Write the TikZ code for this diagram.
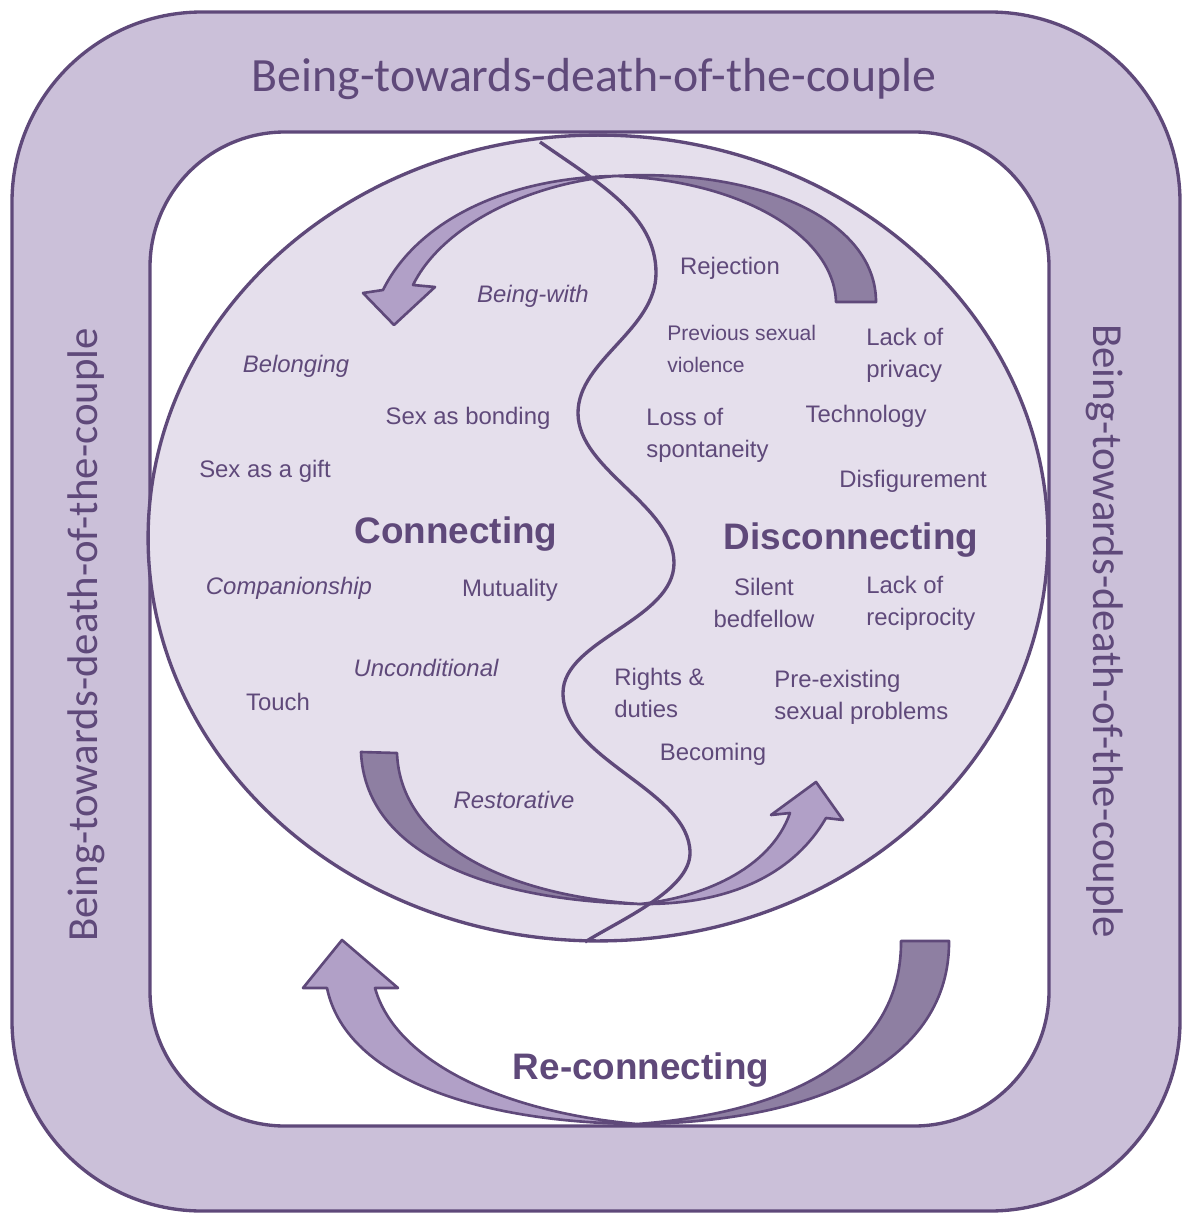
\documentclass[tikz,border=0pt]{standalone}
\usepackage{fontspec}
\setmainfont{Liberation Sans}
\newfontfamily\bandfont{Carlito}
\definecolor{plum}{HTML}{5F497A}
\definecolor{bandfill}{HTML}{CBC0D9}
\definecolor{discfill}{HTML}{E5DFEC}
\definecolor{tailfill}{HTML}{8E7FA2}
\definecolor{headfill}{HTML}{B1A0C7}
\begin{document}
\begin{tikzpicture}[x=0.02cm, y=-0.02cm,
    edge/.style={draw=plum, line width=1.9pt},
    arrowedge/.style={draw=plum, line width=1.5pt, line join=round},
    lbl/.style={text=plum, inner sep=0pt, align=left, font=\fontsize{13.6}{18.2}\selectfont},
    itl/.style={lbl, font=\fontsize{13.6}{18.2}\selectfont\itshape},
    small/.style={lbl, font=\fontsize{12}{18.2}\selectfont},
    head/.style={lbl, font=\fontsize{21}{24}\selectfont\bfseries},
    band/.style={text=plum, inner sep=0pt, font=\bandfont\fontsize{24.4}{28}\selectfont}]

  \useasboundingbox (0,0) rectangle (1183,1213);

  %outer band and inner frame
  \draw[edge, fill=bandfill, rounded corners=3.8cm] (12,12) rectangle (1180,1211);
  \draw[edge, fill=white, rounded corners=2.7cm] (150,132) rectangle (1049,1126);

  %the couple
  \draw[edge, fill=discfill] (598,538) ellipse [x radius=9cm, y radius=8.06cm];

  %top arrow
  \draw[arrowedge, fill=tailfill] (615,176) .. controls (760,168) and (876,220) .. (876,302)
        -- (836,302) .. controls (834,235) and (740,180) .. (615,176) -- cycle;
  \draw[arrowedge, fill=headfill] (615,176) .. controls (500,178) and (415,225) .. (383,290)
        -- (363,293) -- (394,325) -- (435,287) -- (413,285)
        .. controls (440,230) and (520,185) .. (615,176) -- cycle;

  %lower arrow in the circle
  \draw[arrowedge, fill=tailfill] (361,752) .. controls (365,850) and (480,900) .. (640,904)
        .. controls (500,895) and (400,840) .. (397,753) -- cycle;
  \draw[arrowedge, fill=headfill] (640,904) .. controls (700,898) and (770,870) .. (790,813)
        -- (771,815) -- (816,782) -- (843,820) -- (826,818)
        .. controls (790,880) and (720,905) .. (640,904) -- cycle;

  %re-connecting arrow
  \draw[arrowedge, fill=tailfill] (949,941) .. controls (950,1060) and (820,1122) .. (637,1124)
        .. controls (800,1112) and (902,1050) .. (901,941) -- cycle;
  \draw[arrowedge, fill=headfill] (637,1124) .. controls (470,1122) and (345,1075) .. (327,988)
        -- (303,988) -- (342,940) -- (398,988) -- (375,988)
        .. controls (395,1060) and (500,1112) .. (637,1124) -- cycle;

  %dividing line
  \draw[edge] (540,142) .. controls (600,184) and (656,215) .. (656,273)
        .. controls (656,330) and (578,360) .. (578,413)
        .. controls (578,470) and (674,505) .. (674,563)
        .. controls (674,620) and (563,640) .. (563,693)
        .. controls (563,760) and (690,790) .. (690,853)
        .. controls (690,890) and (620,920) .. (585,942);

  % band labels
  \node[band, font=\bandfont\fontsize{27.2}{30}\selectfont] (topband) at (594,79) {Being-towards-death-of-the-couple};
  \node[band, rotate=90] (leftband) at (86,635) {Being-towards-death-of-the-couple};
  \node[band, rotate=-90] (rightband) at (1105,631) {Being-towards-death-of-the-couple};

  % connecting side
  \node[itl] (beingwith) at (533,296) {Being-with};
  \node[itl] (belonging) at (296,366) {Belonging};
  \node[lbl] (bonding) at (468,418) {Sex as bonding};
  \node[lbl] (gift) at (265,471) {Sex as a gift};
  \node[head] (connecting) at (456,534) {Connecting};
  \node[itl] (companion) at (289,588) {Companionship};
  \node[lbl] (mutuality) at (510,590) {Mutuality};
  \node[itl] (uncond) at (426,668) {Unconditional};
  \node[lbl] (touch) at (278,702) {Touch};
  \node[itl] (restore) at (514,800) {Restorative};

  % disconnecting side
  \node[lbl] (rejection) at (730,268) {Rejection};
  \node[small, anchor=west] (violence) at (667,349) {Previous sexual\\violence};
  \node[lbl, anchor=west] (privacy) at (866,355) {Lack of\\privacy};
  \node[lbl, anchor=west] (spont) at (646,435) {Loss of\\spontaneity};
  \node[lbl] (tech) at (866,416) {Technology};
  \node[lbl] (disfig) at (913,481) {Disfigurement};
  \node[head] (disconnecting) at (851,540) {Disconnecting};
  \node[lbl, align=center] (bedfellow) at (764,603) {Silent\\bedfellow};
  \node[lbl, anchor=west] (recip) at (866,603) {Lack of\\reciprocity};
  \node[lbl, anchor=west] (rights) at (614,693) {Rights \&\\duties};
  \node[lbl, anchor=west] (preexist) at (774,697) {Pre-existing\\sexual problems};
  \node[lbl] (becoming) at (713,754) {Becoming};

  \node[head] (reconnect) at (641,1070) {Re-connecting};

\end{tikzpicture}
\end{document}
